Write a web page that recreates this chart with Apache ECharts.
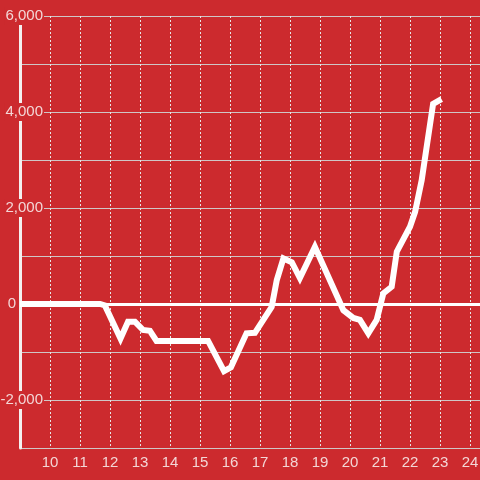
<!DOCTYPE html>
<html>
<head>
<meta charset="utf-8">
<script src="https://cdn.jsdelivr.net/npm/echarts@6/dist/echarts.min.js"></script>
<style>
html,body{margin:0;padding:0;background:#cc2a2e;}
#c{width:480px;height:480px;}
</style>
</head>
<body>
<div id="c"></div>
<script>
// Data (hour of day, value)
var hours = [9, 11.67, 11.83, 12.35, 12.6, 12.83, 13.1, 13.33, 13.55, 15.27, 15.8, 16.03, 16.55, 16.83, 17.39, 17.56, 17.78, 18.06, 18.33, 18.83, 19.78, 20.11, 20.33, 20.61, 20.89, 21.11, 21.39, 21.56, 22.0, 22.17, 22.39, 22.77, 23.05];
var values = [0, 0, -30, -720, -370, -370, -540, -560, -770, -770, -1400, -1320, -610, -600, -60, 500, 950, 870, 540, 1190, -130, -290, -330, -610, -330, 220, 360, 1090, 1610, 1920, 2580, 4170, 4270];
var xTicks = [10, 11, 12, 13, 14, 15, 16, 17, 18, 19, 20, 21, 22, 23, 24];
var yLabelValues = [-2000, 0, 2000, 4000, 6000];

var seriesData = hours.map(function (h, i) { return [h, values[i]]; });
var labelColor = '#f3d6d6';
var bg = '#cc2a2e';

function fmt(v) {
  var s = Math.abs(v).toString().replace(/\B(?=(\d{3})+(?!\d))/g, ',');
  return (v < 0 ? '-' : '') + s;
}

var chart = echarts.init(document.getElementById('c'), null, {renderer: 'canvas'});
chart.setOption({
  backgroundColor: bg,
  animation: false,
  grid: {left: 20, right: 0, top: 16, bottom: 32, containLabel: false, outerBoundsMode: 'none'},
  xAxis: {
    type: 'value',
    min: 9,
    max: 24.3333,
    interval: 1,
    axisLine: {show: false},
    axisTick: {show: false},
    axisLabel: {
      color: labelColor,
      fontSize: 15,
      fontFamily: 'Liberation Sans, Arial, sans-serif',
      margin: 7,
      showMinLabel: false,
      showMaxLabel: false,
      formatter: function (v) { return xTicks.indexOf(v) >= 0 ? String(v) : ''; }
    },
    splitLine: {show: true, lineStyle: {color: '#e6e6e6', width: 1, type: [2, 2]}}
  },
  yAxis: {
    type: 'value',
    min: -3000,
    max: 6000,
    interval: 1000,
    axisLine: {show: true, onZero: false, lineStyle: {color: '#f4f0f0', width: 3}},
    axisTick: {show: false},
    axisLabel: {
      margin: -24,
      formatter: function (v) {
        if (yLabelValues.indexOf(v) < 0) return '';
        if (v === 0) return '{z|0}';
        return '{a|' + fmt(v) + '}';
      },
      rich: {
        a: {color: labelColor, fontSize: 15, fontFamily: 'Liberation Sans, Arial, sans-serif', backgroundColor: bg, padding: [1, 1, 2, 1]},
        z: {color: labelColor, fontSize: 15, fontFamily: 'Liberation Sans, Arial, sans-serif', padding: [0, 28, 0, 0]}
      }
    },
    splitLine: {show: true, lineStyle: {color: '#cfc6c6', width: 1}}
  },
  series: [{
    type: 'line',
    data: seriesData,
    showSymbol: false,
    symbol: 'none',
    lineStyle: {color: '#ffffff', width: 6, join: 'miter', cap: 'butt'},
    markLine: {
      silent: true,
      symbol: 'none',
      label: {show: false},
      lineStyle: {color: '#ffffff', width: 3, type: 'solid'},
      data: [{yAxis: 0}]
    }
  }]
});
</script>
</body>
</html>
